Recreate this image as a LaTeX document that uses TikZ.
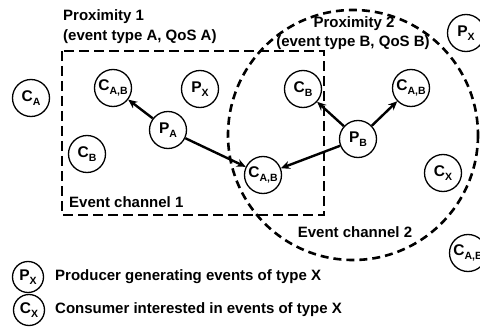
\documentclass[tikz,border=0pt]{standalone}
\usepackage{fontspec}
\setmainfont{Liberation Sans}
\usetikzlibrary{arrows.meta}
\newcommand\lsub[1]{\raisebox{-0.22em}{\fontsize{10.5}{11}\selectfont #1}}
\tikzset{
  ent/.style={circle,draw,line width=1.3pt,minimum size=37pt,inner sep=0pt,
    font=\fontsize{15.5}{17}\selectfont\bfseries},
  lent/.style={ent,minimum size=31pt},
  lbl/.style={inner sep=0pt,font=\fontsize{15}{17}\selectfont\bfseries},
  flow/.style={line width=2.4pt,-{Stealth[length=9pt,width=8pt]}},
  chan1/.style={line width=2.6pt,dash pattern=on 10pt off 5pt},
  chan2/.style={line width=2.6pt,dash pattern=on 8pt off 5pt}
}
\begin{document}
\begin{tikzpicture}[x=1pt,y=-1pt]
\useasboundingbox (0,0) rectangle (480,329);
% channels
\draw[chan1] (62,51) rectangle (324,215);
\draw[chan2] (353,135) circle[radius=125];
% nodes
\node[ent] (ca) at (31,98) {C\lsub{A}};
\node[ent] (cab1) at (113,88) {C\lsub{A,B}};
\node[ent] (px1) at (200,89) {P\lsub{X}};
\node[ent] (pa) at (168,130) {P\lsub{A}};
\node[ent] (cb1) at (87,154) {C\lsub{B}};
\node[ent] (cab2) at (263,175) {C\lsub{A,B}};
\node[ent] (cb2) at (303,89) {C\lsub{B}};
\node[ent] (cab3) at (411,88) {C\lsub{A,B}};
\node[ent] (pb) at (358,139) {P\lsub{B}};
\node[ent] (cx) at (443,173) {C\lsub{X}};
\node[ent] (px2) at (466,33) {P\lsub{X}};
\node[ent] (cab4) at (468,253) {C\lsub{A,B}};
% arrows
\draw[flow] (pa) -- (cab1);
\draw[flow] (pa) -- (cab2);
\draw[flow] (pb) -- (cb2);
\draw[flow] (pb) -- (cab3);
\draw[flow] (pb) -- (cab2);
% labels
\node[lbl,anchor=west] (p1a) at (63,17) {Proximity 1};
\node[lbl,anchor=west] (p1b) at (63,37) {(event type A, QoS A)};
\node[lbl] (p2a) at (354,24) {Proximity 2};
\node[lbl] (p2b) at (353,43) {(event type B, QoS B)};
\node[lbl,anchor=west] (ec1) at (69,202) {Event channel 1};
\node[lbl] (ec2) at (355,232) {Event channel 2};
% legend
\node[lent] (lpx) at (28,277) {P\lsub{X}};
\node[lent] (lcx) at (29,310) {C\lsub{X}};
\node[lbl,anchor=west] (lt1) at (55,277) {Producer generating events of type X};
\node[lbl,anchor=west] (lt2) at (55,310) {Consumer interested in events of type X};
\end{tikzpicture}
\end{document}
